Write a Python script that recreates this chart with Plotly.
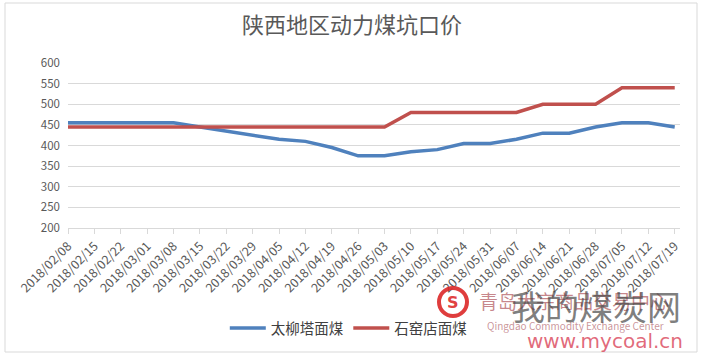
import plotly.graph_objects as go

dates = ["2018/02/08", "2018/02/15", "2018/02/22", "2018/03/01", "2018/03/08", "2018/03/15",
         "2018/03/22", "2018/03/29", "2018/04/05", "2018/04/12", "2018/04/19", "2018/04/26",
         "2018/05/03", "2018/05/10", "2018/05/17", "2018/05/24", "2018/05/31", "2018/06/07",
         "2018/06/14", "2018/06/21", "2018/06/28", "2018/07/05", "2018/07/12", "2018/07/19"]
taoliuta = [455, 455, 455, 455, 455, 445, 435, 425, 415, 410, 395, 375,
            375, 385, 390, 405, 405, 415, 430, 430, 445, 455, 455, 445]
shiyaodian = [445, 445, 445, 445, 445, 445, 445, 445, 445, 445, 445, 445,
              445, 480, 480, 480, 480, 480, 500, 500, 500, 540, 540, 540]
series_names = ["太柳塔面煤", "石窑店面煤"]
title_text = "陕西地区动力煤坑口价"

x_idx = list(range(len(dates)))

fig = go.Figure()
fig.add_trace(go.Scatter(x=x_idx, y=taoliuta, mode="lines", name=series_names[0],
                         line=dict(color="#4F81BD", width=3.5)))
fig.add_trace(go.Scatter(x=x_idx, y=shiyaodian, mode="lines", name=series_names[1],
                         line=dict(color="#C0504D", width=3.5)))

font_family = "Noto Sans CJK SC, Noto Sans, sans-serif"

fig.update_layout(
    width=701, height=358,
    margin=dict(l=68, r=21, t=63, b=130),
    paper_bgcolor="white", plot_bgcolor="white",
    font=dict(family=font_family, color="#595959", size=11),
    title=dict(text=title_text, x=0.502, xanchor="center", y=1 - 25 / 358, yanchor="middle",
               font=dict(size=22, color="#595959", family=font_family)),
    showlegend=True,
    legend=dict(orientation="h", x=0.458, xanchor="center", y=-0.606, yanchor="middle",
                font=dict(size=14.5, color="#404040"), bgcolor="rgba(0,0,0,0)",
                itemwidth=36, tracegroupgap=0),
    xaxis=dict(
        range=[0, 23.2], tickmode="array", tickvals=x_idx, ticktext=dates,
        tickangle=-45, showgrid=False, zeroline=False,
        showline=True, linecolor="#D9D9D9", linewidth=1,
        ticks="outside", ticklen=5, tickcolor="#D9D9D9",
        tickfont=dict(size=12.5, color="#595959"),
    ),
    yaxis=dict(
        range=[200, 600], dtick=50, showgrid=True, gridcolor="#D9D9D9", gridwidth=1,
        zeroline=False, showline=False, ticks="", ticklabelstandoff=7,
        tickfont=dict(size=11.5, color="#595959"),
    ),
)

# outer chart border
fig.add_shape(type="rect", xref="paper", yref="paper",
              x0=(5 - 68) / 612, x1=(697 - 68) / 612,
              y0=(228 - 352) / 165, y1=(228 - 3) / 165,
              line=dict(color="#D9D9D9", width=1), fillcolor="rgba(0,0,0,0)", layer="below")

# watermark
def px2paper(px, py):
    return (px - 68) / 612, (228 - py) / 165

def wm(px, py, text, font):
    wx, wy = px2paper(px, py)
    fig.add_annotation(xref="paper", yref="paper", x=wx, y=wy, text=text, showarrow=False,
                       xanchor="center", yanchor="middle", font=font)

cx, cy = px2paper(453, 302)
r = 14
fig.add_shape(type="circle", xref="paper", yref="paper",
              x0=cx - r / 612, x1=cx + r / 612, y0=cy - r / 165, y1=cy + r / 165,
              line=dict(color="rgba(220,40,40,0.9)", width=4), fillcolor="rgba(255,255,255,0)")
wm(453, 302, "<b>S</b>", dict(size=16, color="rgba(220,40,40,0.9)", family="DejaVu Sans"))
wm(574, 300, "青岛大宗商品交易中心", dict(size=19, color="rgba(150,30,40,0.55)", family=font_family))
wm(596, 305, "我的煤炭网", dict(size=34, color="rgba(70,70,70,0.7)", family=font_family))
wm(575, 325, "Qingdao Commodity Exchange Center", dict(size=10, color="rgba(150,40,50,0.5)", family=font_family))
wm(605, 341, "www.mycoal.cn", dict(size=20, color="rgba(220,80,100,0.85)", family="DejaVu Sans"))

fig.write_html("out.html", config={"displayModeBar": False},
               post_script="document.body.style.margin='0';")
